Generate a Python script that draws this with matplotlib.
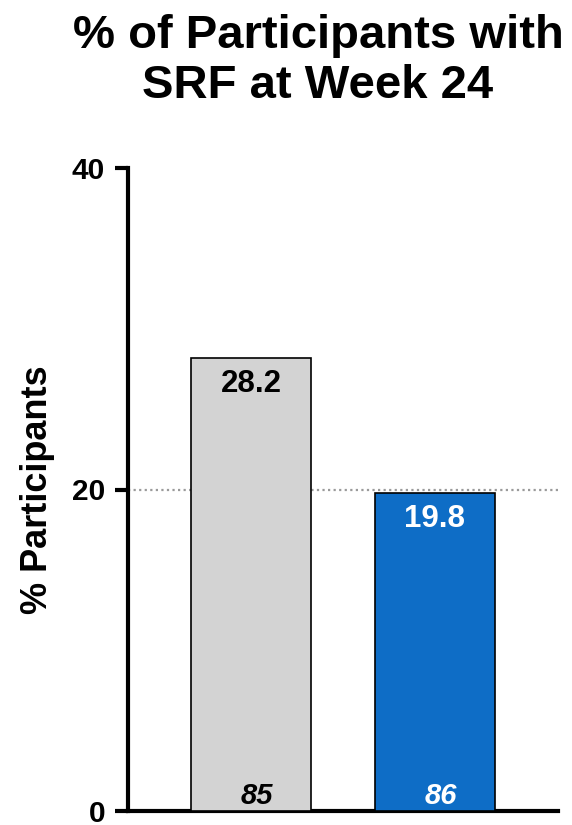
import matplotlib.pyplot as plt

plt.rcParams['font.family'] = ['Liberation Sans', 'DejaVu Sans']

# data
groups = ["Control", "Treatment"]
pct_values = [28.2, 19.8]
n_values = [85, 86]
bar_colors = ["#D3D3D3", "#0E6DC6"]
text_colors = ["black", "white"]
y_ticks = [0, 20, 40]
reference_line = 20

fig = plt.figure(figsize=(5.72, 8.25), dpi=100)
ax = fig.add_axes([128 / 572, 14 / 825, 430 / 572, 643 / 825])

x = list(range(len(groups)))
bars = ax.bar(x, pct_values, width=0.65, color=bar_colors,
              edgecolor="black", linewidth=1.2, zorder=3)

ax.axhline(reference_line, color="#9A9A9A", linestyle=(0, (1, 1.5)),
           linewidth=1.6, zorder=2)

for xi, val, n, tc in zip(x, pct_values, n_values, text_colors):
    ax.annotate(f"{val:.1f}", (xi, val), xytext=(0, -19), textcoords="offset points",
                ha="center", va="center", fontsize=22.5, fontweight="bold", color=tc, zorder=4)
    ax.annotate(f"{n}", (xi, 0), xytext=(4, 11), textcoords="offset points",
                ha="center", va="center", fontsize=21, fontweight="bold",
                fontstyle="italic", color=tc, zorder=4)

ax.set_xlim(-0.67, 1.67)
ax.set_ylim(0, 40)
ax.set_xticks([])
ax.set_yticks(y_ticks)
ax.tick_params(axis="y", direction="out", length=9.5, width=3, labelsize=21.5, pad=7)
for lbl in ax.get_yticklabels():
    lbl.set_fontweight("bold")

for side in ["top", "right"]:
    ax.spines[side].set_visible(False)
for side in ["left", "bottom"]:
    ax.spines[side].set_linewidth(3)

ax.set_ylabel("% Participants", fontsize=26, fontweight="bold", labelpad=12)

fig.text(318 / 572, 1 - 61 / 825, "% of Participants with\nSRF at Week 24",
         ha="center", va="center", fontsize=34, fontweight="bold", linespacing=1.2)

fig.savefig("out.png", dpi=100)
